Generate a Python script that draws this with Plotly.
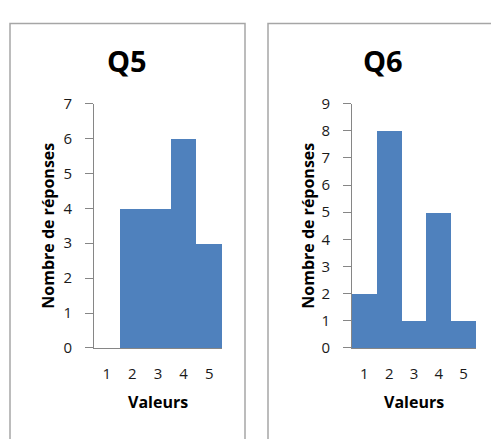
import plotly.graph_objects as go

W, H = 491, 439

categories = [1, 2, 3, 4, 5]
q5_values = [0, 4, 4, 6, 3]
q6_values = [2, 8, 1, 5, 1]
tick_labels = ["1", "2", "3", "4", "5"]
titles = ["Q5", "Q6"]
y_title = "Nombre de réponses"
x_title = "Valeurs"

BAR = "#4f81bd"
AXIS = "#868686"
BORDER = "#a6a6a6"
TXT = "#1a1a1a"
FONT = "Open Sans"


def px(x):
    return x / W


def py(y):
    return (H - y) / H


fig = go.Figure()
fig.add_trace(go.Bar(x=categories, y=q5_values, width=1, marker=dict(color=BAR, line=dict(width=0)),
                     xaxis="x", yaxis="y", hoverinfo="skip"))
fig.add_trace(go.Bar(x=categories, y=q6_values, width=1, marker=dict(color=BAR, line=dict(width=0)),
                     xaxis="x2", yaxis="y2", hoverinfo="skip"))

ybot, ytop = py(353), py(97)

xcommon = dict(range=[0.5, 5.5], tickvals=categories, ticktext=tick_labels, showline=True,
               linecolor=AXIS, linewidth=1, ticks="", showgrid=False, zeroline=False,
               tickfont=dict(family=FONT, size=15, color=TXT), ticklabelstandoff=12, fixedrange=True)
ycommon = dict(dtick=1, showline=True, linecolor=AXIS, linewidth=1, ticks="outside", ticklen=8,
               tickcolor=AXIS, showgrid=False, zeroline=False,
               tickfont=dict(family=FONT, size=15, color=TXT), ticklabelstandoff=10, fixedrange=True)

fig.update_layout(
    width=W, height=H, margin=dict(l=0, r=0, t=0, b=0),
    paper_bgcolor="white", plot_bgcolor="white", showlegend=False, bargap=0,
    xaxis=dict(domain=[px(94), px(222)], anchor="y", **xcommon),
    yaxis=dict(domain=[ybot, ytop], range=[0, 7], anchor="x", **ycommon),
    xaxis2=dict(domain=[px(352), px(476)], anchor="y2", **xcommon),
    yaxis2=dict(domain=[ybot, ytop], range=[0, 9], anchor="x2", **ycommon),
)

shapes = [
    dict(type="rect", xref="paper", yref="paper", x0=px(10), x1=px(245), y0=py(460), y1=py(13),
         line=dict(color=BORDER, width=1.5), fillcolor="rgba(0,0,0,0)", layer="below"),
    dict(type="rect", xref="paper", yref="paper", x0=px(268), x1=px(520), y0=py(460), y1=py(13),
         line=dict(color=BORDER, width=1.5), fillcolor="rgba(0,0,0,0)", layer="below"),
]
fig.update_layout(shapes=shapes)

ann = []
for title, cx, ycx, xcx in [(titles[0], 127, 48, 158), (titles[1], 383, 308, 414)]:
    ann.append(dict(text=f"<b>{title}</b>", x=px(cx), y=py(52), xref="paper", yref="paper",
                    showarrow=False, xanchor="center", yanchor="middle",
                    font=dict(family=FONT, size=29, color="black")))
    ann.append(dict(text=f"<b>{y_title}</b>", x=px(ycx), y=py(225), xref="paper", yref="paper",
                    showarrow=False, xanchor="center", yanchor="middle", textangle=-90,
                    font=dict(family=FONT, size=16, color="black")))
    ann.append(dict(text=f"<b>{x_title}</b>", x=px(xcx), y=py(410), xref="paper", yref="paper",
                    showarrow=False, xanchor="center", yanchor="middle",
                    font=dict(family=FONT, size=16, color="black")))
fig.update_layout(annotations=ann)

fig.write_html("out.html", config={"displayModeBar": False},
               post_script="document.body.style.margin='0';document.body.style.overflow='hidden';")
